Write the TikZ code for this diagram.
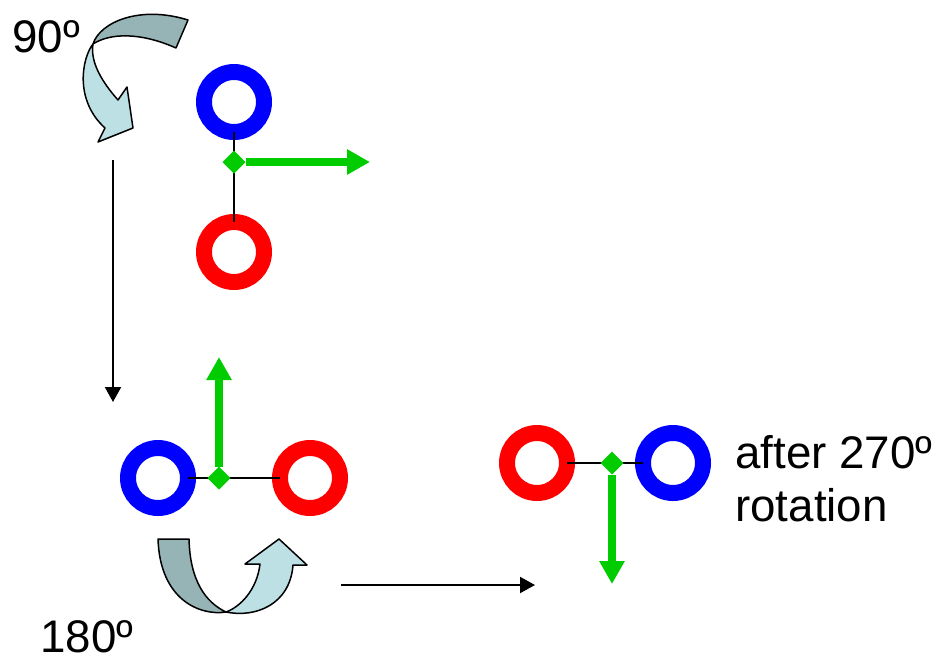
\documentclass[tikz,border=0pt]{standalone}
\usepackage{fontspec}
\setmainfont{Liberation Sans}
\usetikzlibrary{shapes.geometric, arrows.meta}

\definecolor{ringblue}{RGB}{0,0,255}
\definecolor{ringred}{RGB}{255,0,0}
\definecolor{vecgreen}{RGB}{0,204,0}
\definecolor{turndark}{RGB}{150,180,182}
\definecolor{turnlight}{RGB}{189,224,228}

\begin{document}
\begin{tikzpicture}[
			x=0.02cm, y=-0.02cm,
			ring/.style={
				circle,
				draw,
				line width=0.32cm,
				minimum size=1.2cm,
				inner sep=0pt,
				outer sep=0pt
			},
			hub/.style={
				diamond,
				fill=vecgreen,
				minimum size=0.46cm,
				inner sep=0pt,
				outer sep=0pt
			},
			bond/.style={
				line width=0.04cm
			},
			vector/.style={
				-{Triangle[width=0.48cm,length=0.46cm]},
				draw=vecgreen,
				line width=0.17cm
			},
			arrow/.style={
				-{Triangle[width=0.32cm,length=0.3cm]},
				line width=0.04cm
			},
			backface/.style={
				draw,
				fill=turndark,
				line width=0.03cm,
				line join=round
			},
			frontface/.style={
				draw,
				fill=turnlight,
				line width=0.03cm,
				line join=round
			},
			txt/.style={
				anchor=base west,
				inner sep=0pt,
				font=\fontsize{26}{30}\selectfont
			}
			]
			
			\useasboundingbox (0,0) rectangle (942,660);
			
			% 90 degree state
			\node (blueA) [ring, draw=ringblue] at (234,102) {};
			\node (redA) [ring, draw=ringred] at (234,252) {};
			\draw [bond] (blueA) -- (redA);
			\node (hubA) [hub] at (234,162) {};
			\coordinate (tipA) at (370,162);
			\draw [vector] (hubA) -- (tipA);
			
			% 180 degree state
			\node (blueB) [ring, draw=ringblue] at (158,478) {};
			\node (redB) [ring, draw=ringred] at (310,478) {};
			\draw [bond] (blueB) -- (redB);
			\node (hubB) [hub] at (219,478) {};
			\coordinate (tipB) at (219,357);
			\draw [vector] (hubB) -- (tipB);
			
			% 270 degree state
			\node (redC) [ring, draw=ringred] at (537,463) {};
			\node (blueC) [ring, draw=ringblue] at (673,463) {};
			\draw [bond] (redC) -- (blueC);
			\node (hubC) [hub] at (612,463) {};
			\coordinate (tipC) at (612,584);
			\draw [vector] (hubC) -- (tipC);
			
			% steps
			\coordinate (downA) at (113,160);
			\coordinate (downB) at (113,402);
			\coordinate (rightA) at (341,585);
			\coordinate (rightB) at (535,585);
			\draw [arrow] (downA) -- (downB);
			\draw [arrow] (rightA) -- (rightB);
			
			% turn arrows
			\draw [backface] (93,44) .. controls (100,22) and (140,5) .. (188,20) -- (176,48) .. controls (140,32) and (110,33) .. (93,44) -- cycle;
			\draw [frontface] (93,44) .. controls (82,58) and (74,100) .. (105,128) -- (98,142) -- (133,128) -- (127,87) -- (118,100) .. controls (102,82) and (90,62) .. (93,44) -- cycle;
			\draw [backface] (158,539) -- (189,539) .. controls (190,580) and (205,602) .. (226,612) .. controls (200,616) and (160,600) .. (158,539) -- cycle;
			\draw [frontface] (226,612) .. controls (255,618) and (290,605) .. (293,565) -- (307,565) -- (279,539) -- (245,564) -- (260,564) .. controls (257,590) and (240,607) .. (226,612) -- cycle;
			
			\node (deg90) [txt] at (12,52) {90º};
			\node (deg180) [txt] at (40,652) {180º};
			\node (after) [txt, align=left] at (735,521) {after 270º\\rotation};
			
		\end{tikzpicture}
\end{document}
